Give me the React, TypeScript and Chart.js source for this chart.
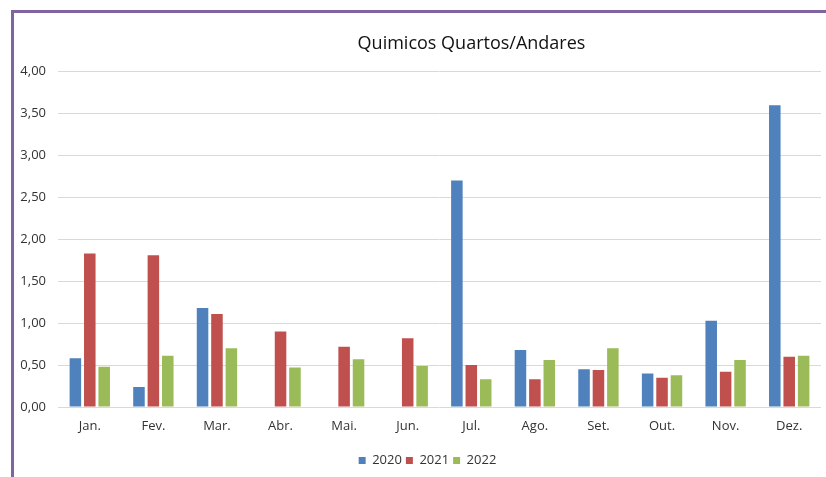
import React, { useEffect, useRef } from "react";
import { Chart, registerables } from "chart.js";

Chart.register(...registerables);

const months = ["Jan.", "Fev.", "Mar.", "Abr.", "Mai.", "Jun.", "Jul.", "Ago.", "Set.", "Out.", "Nov.", "Dez."];
const values2020: (number | null)[] = [0.58, 0.24, 1.18, null, null, null, 2.7, 0.68, 0.45, 0.4, 1.03, 3.6];
const values2021: (number | null)[] = [1.83, 1.81, 1.11, 0.9, 0.72, 0.82, 0.5, 0.33, 0.44, 0.35, 0.42, 0.6];
const values2022: (number | null)[] = [0.48, 0.61, 0.7, 0.47, 0.57, 0.49, 0.33, 0.56, 0.7, 0.38, 0.56, 0.61];
const seriesNames = ["2020", "2021", "2022"];
const titleText = "Quimicos Quartos/Andares";

const FONT = "'Open Sans', 'DejaVu Sans', sans-serif";

const shiftBlocks = {
  id: "shiftBlocks",
  afterLayout(chart: any) {
    const l = chart.legend;
    if (l) {
      l.left += 10;
      l.right += 10;
    }
    const t = chart.titleBlock;
    if (t) {
      t.left += 54;
      t.right += 54;
    }
  },
};

export default function App() {
  const ref = useRef<HTMLCanvasElement | null>(null);

  useEffect(() => {
    if (!ref.current) return;
    const chart = new Chart(ref.current, {
      type: "bar",
      data: {
        labels: months,
        datasets: [
          { label: seriesNames[0], data: values2020, backgroundColor: "#4F81BD" },
          { label: seriesNames[1], data: values2021, backgroundColor: "#C0504D" },
          { label: seriesNames[2], data: values2022, backgroundColor: "#9BBB59" },
        ],
      },
      options: {
        responsive: false,
        animation: false,
        datasets: { bar: { categoryPercentage: 0.68, barPercentage: 0.8 } },
        layout: { padding: { left: 0, right: 5, top: 0, bottom: 0 } },
        plugins: {
          title: {
            display: true,
            text: titleText,
            color: "#111",
            font: { family: FONT, size: 18, weight: "normal" },
            padding: { top: 20, bottom: 17 },
          },
          legend: {
            position: "bottom",
            labels: {
              boxWidth: 7,
              boxHeight: 7,
              padding: 4,
              color: "#333",
              font: { family: FONT, size: 13 },
            },
          },
          tooltip: { enabled: false },
        },
        scales: {
          x: {
            grid: { display: false, drawTicks: false },
            border: { display: false },
            ticks: { color: "#333", font: { family: FONT, size: 13 }, padding: 11 },
            afterFit: (s: any) => {
              s.height = 43;
            },
          },
          y: {
            min: 0,
            max: 4,
            grid: { color: "#D9D9D9", lineWidth: 1, drawTicks: false },
            border: { display: false },
            ticks: {
              stepSize: 0.5,
              padding: 12,
              color: "#333",
              font: { family: FONT, size: 13 },
              callback: (v: any) => Number(v).toFixed(2).replace(".", ","),
            },
            afterFit: (s: any) => {
              s.width = 44;
            },
          },
        },
      },
      plugins: [shiftBlocks],
    });
    return () => chart.destroy();
  }, []);

  return (
    <div style={{ position: "fixed", left: 0, top: 0, width: 826, height: 477, overflow: "hidden", background: "#fff" }}>
      <div
        style={{
          position: "absolute",
          left: 11,
          top: 10,
          width: 1000,
          height: 1000,
          border: "3px solid #8064A2",
          boxSizing: "border-box",
        }}
      />
      <canvas ref={ref} width={812} height={464} style={{ position: "absolute", left: 14, top: 13 }} />
    </div>
  );
}
